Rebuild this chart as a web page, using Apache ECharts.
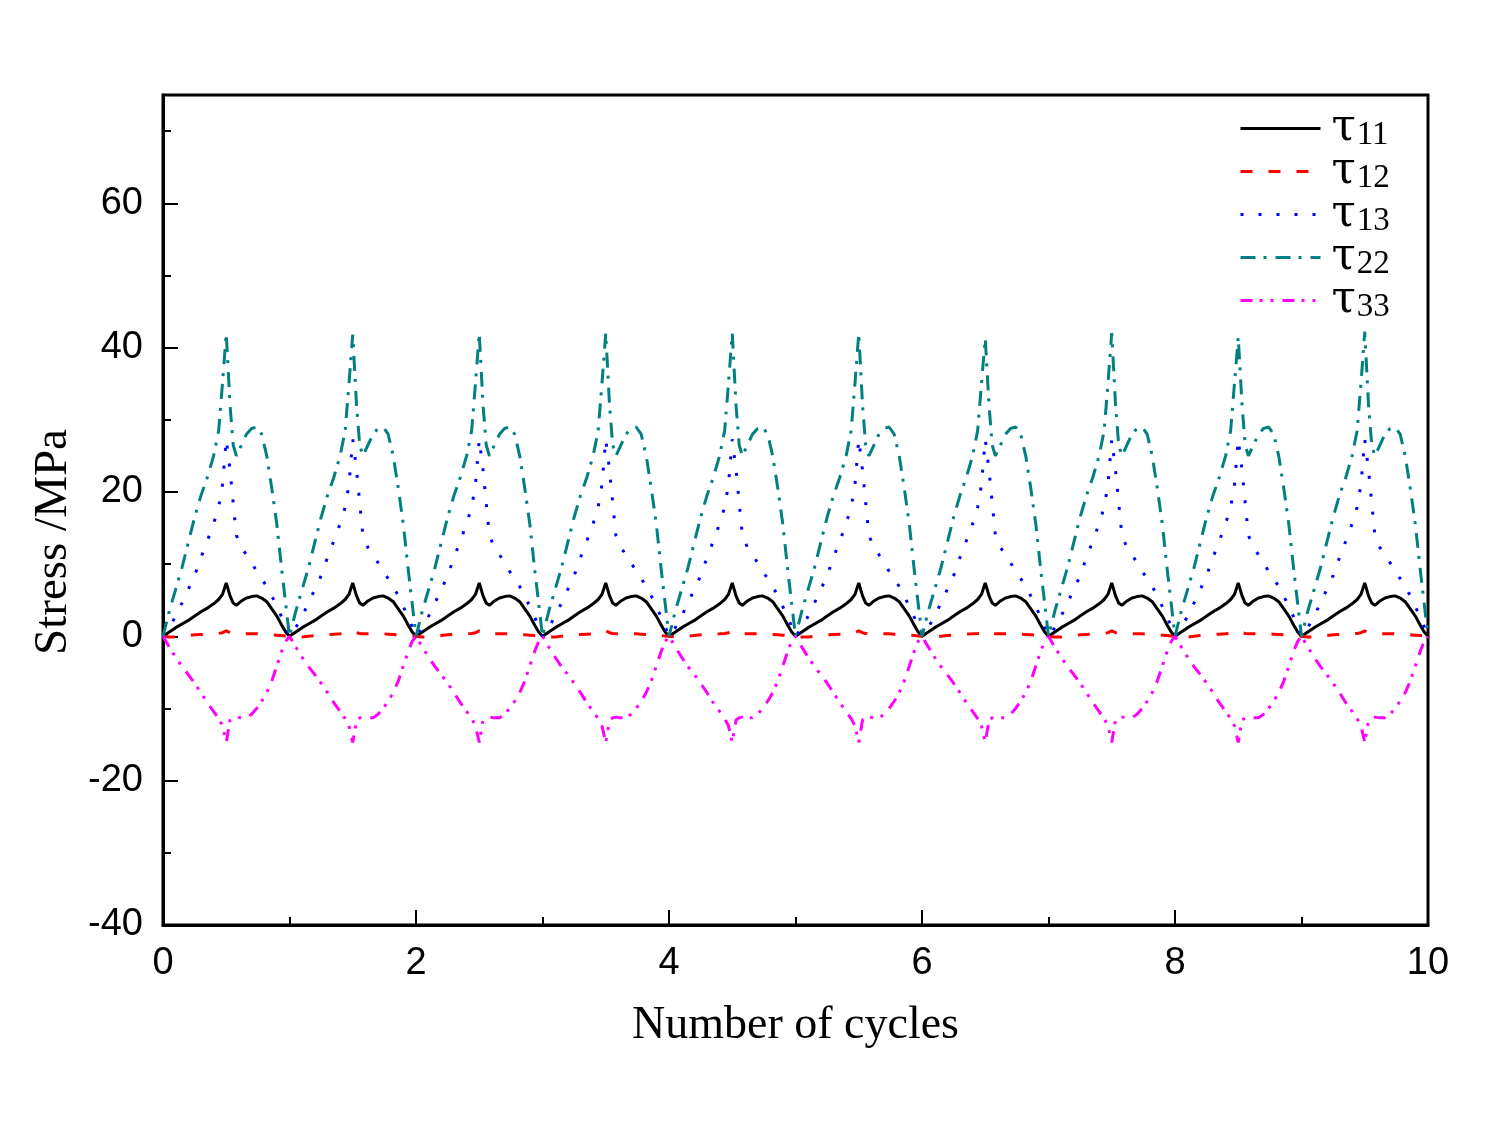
<!DOCTYPE html>
<html>
<head>
<meta charset="utf-8">
<title>Stress vs number of cycles</title>
<script src="https://cdn.jsdelivr.net/npm/echarts@6/dist/echarts.min.js"></script>
<style>
  html, body { margin: 0; padding: 0; background: #fff; }
  #chart { width: 1500px; height: 1125px; }
</style>
</head>
<body>
<div id="chart"></div>
<script>
  // one loading cycle, position inside the cycle
  var cyclePos = [0, 0.05, 0.1, 0.15, 0.2, 0.25, 0.3, 0.35, 0.4, 0.44, 0.47, 0.5, 0.53, 0.555, 0.58, 0.62, 0.66, 0.7, 0.74, 0.78, 0.82, 0.86, 0.9, 0.94, 0.97, 1];
  var tau11 = [0, 0.6, 1.2, 1.7, 2.2, 2.8, 3.4, 3.9, 4.5, 5.1, 5.8, 7.4, 5.6, 4.6, 4.3, 4.9, 5.3, 5.5, 5.6, 5.3, 4.8, 3.8, 2.8, 1.5, 0.6, 0];
  var tau12 = [0, -0.1, -0.1, 0, 0.1, 0.2, 0.25, 0.3, 0.35, 0.4, 0.5, 0.75, 0.5, 0.4, 0.35, 0.35, 0.35, 0.35, 0.35, 0.3, 0.25, 0.2, 0.15, 0.1, 0.05, 0];
  var tau13 = [0, 1.2, 2.8, 4.6, 6.5, 8.4, 10.9, 13.2, 15.6, 17.9, 21, 27.3, 23, 18.5, 14, 12.3, 11.3, 10.2, 9, 8, 6.9, 5.6, 4.1, 2.6, 1.3, 0];
  var tau22 = [0, 3.5, 6.5, 9.5, 13, 16.5, 19.5, 22, 25, 28.5, 35, 42, 32, 26.5, 25, 26.5, 28, 28.8, 29, 28, 25, 20.5, 15.5, 9, 4.5, 0];
  var tau33 = [0, -1.5, -2.9, -4.2, -5.3, -6.5, -7.8, -9.2, -10.4, -11.4, -12.4, -14.7, -11.6, -11.3, -11.2, -11.3, -11.3, -10.8, -10, -9, -7.8, -6.2, -4.1, -2, -0.7, 0];
  // tau22 spike height of each of the 10 cycles
  var tau22Peak = [42, 41.8, 42, 42, 42, 42, 41.3, 42, 41.5, 42.2];
  var nCycles = 10;

  var xTicks = [0, 2, 4, 6, 8, 10];
  var yTicks = [-40, -20, 0, 20, 40, 60];

  function buildSeries(vals, peaks) {
    var out = [];
    for (var k = 0; k < nCycles; k++) {
      for (var i = (k === 0 ? 0 : 1); i < cyclePos.length; i++) {
        var v = vals[i];
        if (peaks && cyclePos[i] === 0.5) v = peaks[k];
        out.push([k + cyclePos[i], v]);
      }
    }
    return out;
  }

  var chart = echarts.init(document.getElementById('chart'));

  var serif = '"Liberation Serif", "DejaVu Serif", serif';
  var sans = '"Liberation Sans", Arial, sans-serif';

  function lineSeries(name, data, color, type) {
    return {
      name: name,
      type: 'line',
      data: data,
      showSymbol: false,
      symbol: 'none',
      smooth: false,
      animation: false,
      lineStyle: { color: color, width: 3, type: type, cap: 'butt' },
      itemStyle: { color: color }
    };
  }

  var option = {
    backgroundColor: '#fff',
    animation: false,
    grid: {
      left: 163, right: 72, top: 95, bottom: 200,
      show: true, borderColor: '#000', borderWidth: 3
    },
    legend: {
      orient: 'vertical',
      left: 1234,
      top: 100,
      itemWidth: 80,
      itemHeight: 14,
      itemGap: -4,
      itemStyle: { opacity: 0 },
      lineStyle: { width: 3 },
      data: ['τ11', 'τ12', 'τ13', 'τ22', 'τ33'],
      formatter: function (name) {
        return '{t|τ}{s|' + name.slice(1) + '}';
      },
      textStyle: {
        rich: {
          t: { fontFamily: '"DejaVu Serif", serif', fontSize: 44, color: '#000', lineHeight: 40, padding: [0, 0, 0, 6] },
          s: { fontFamily: serif, fontSize: 33, color: '#000', lineHeight: 26, padding: [14, 0, 0, 1] }
        }
      }
    },
    xAxis: {
      type: 'value',
      min: 0, max: 10, interval: 2,
      name: 'Number of cycles',
      nameLocation: 'middle',
      nameGap: 78,
      nameTextStyle: { fontFamily: serif, fontSize: 46, color: '#000' },
      axisLine: { show: true, onZero: false, lineStyle: { color: '#000', width: 3 } },
      axisTick: { show: true, inside: true, length: 15, lineStyle: { color: '#000', width: 2 } },
      minorTick: { show: true, splitNumber: 2, length: 8, lineStyle: { color: '#000', width: 2 } },
      splitLine: { show: false },
      axisLabel: {
        margin: 20, fontFamily: sans, fontSize: 38, color: '#000',
        formatter: function (v) { return xTicks.indexOf(v) >= 0 ? String(v) : ''; }
      }
    },
    yAxis: [
      {
        type: 'value',
        min: -40, max: 75, interval: 20,
        name: 'Stress /MPa',
        nameLocation: 'middle',
        nameGap: 76,
        nameRotate: 90,
        nameTextStyle: { fontFamily: serif, fontSize: 47, color: '#000', padding: [0, 64, 0, 0] },
        axisLine: { show: true, onZero: false, lineStyle: { color: '#000', width: 3 } },
        axisTick: { show: true, inside: true, length: 15, lineStyle: { color: '#000', width: 2 } },
        splitLine: { show: false },
        axisLabel: {
          margin: 20, fontFamily: sans, fontSize: 38, color: '#000',
          formatter: function (v) { return yTicks.indexOf(v) >= 0 ? String(v) : ''; }
        }
      },
      {
        type: 'value',
        position: 'left',
        offset: 0,
        min: -40, max: 75, interval: 10,
        axisLine: { show: false, onZero: false },
        axisTick: { show: true, inside: true, length: 8, lineStyle: { color: '#000', width: 2 } },
        axisLabel: { show: false },
        splitLine: { show: false }
      }
    ],
    series: [
      lineSeries('τ11', buildSeries(tau11), '#000000', 'solid'),
      lineSeries('τ12', buildSeries(tau12), '#ff0000', [12, 16]),
      lineSeries('τ13', buildSeries(tau13), '#0000ff', [3, 15]),
      lineSeries('τ22', buildSeries(tau22, tau22Peak), '#008080', [15, 8, 3, 9]),
      lineSeries('τ33', buildSeries(tau33), '#ff00ff', [12, 7, 3, 8, 3, 9])
    ]
  };

  chart.setOption(option);
</script>
</body>
</html>
